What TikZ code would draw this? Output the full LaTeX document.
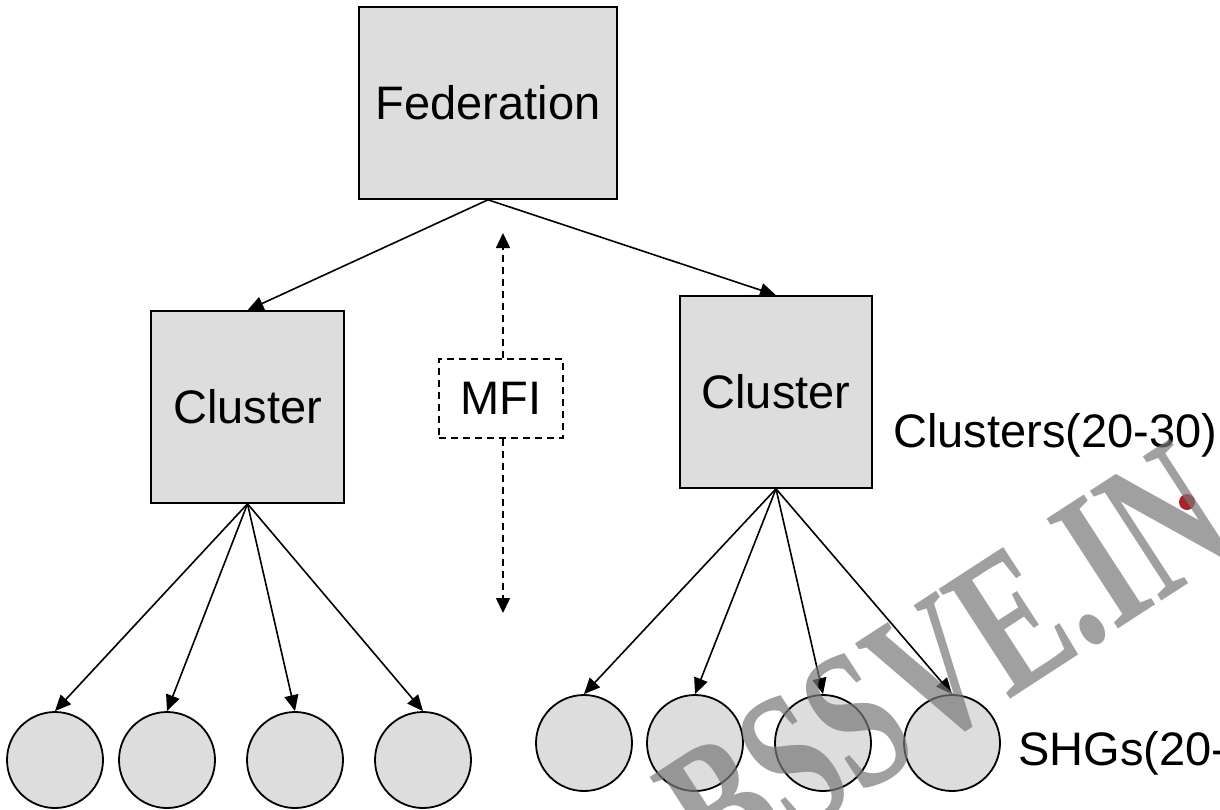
\documentclass[tikz,border=0pt]{standalone}
\usepackage{fontspec}
\setmainfont{Liberation Sans}
\newfontfamily\wmfont{Liberation Serif}
\usetikzlibrary{arrows.meta}
\definecolor{boxgray}{RGB}{221,221,221}
\definecolor{wmgray}{RGB}{120,120,120}
\definecolor{wmred}{RGB}{170,35,42}
\tikzset{
  every node/.style={font=\fontsize{47}{56}\selectfont, inner sep=0pt},
  sqbox/.style={draw, fill=boxgray, line width=1.6pt, minimum width=#1, minimum height=192pt},
  shg/.style={draw, fill=boxgray, circle, line width=1.8pt, minimum size=96pt},
  link/.style={line width=1.6pt, -{Triangle[length=16pt,width=14pt]}},
  dlink/.style={line width=1.5pt, dash pattern=on 7pt off 5pt, -{Triangle[length=15pt,width=14pt]}},
  mfibox/.style={draw, line width=1.5pt, dash pattern=on 7pt off 5pt, minimum width=124pt, minimum height=79pt}
}
\begin{document}
\begin{tikzpicture}[x=1pt, y=-1pt]
\useasboundingbox (0,0) rectangle (1220,809);
\begin{scope}
\clip (0,0) rectangle (1220,809);

% hierarchy boxes
\node[sqbox=258pt] (fed) at (488,103) {Federation};
\node[sqbox=193pt] (cl) at (247.5,407) {Cluster};
\node[sqbox=192pt] (cr) at (776,392) {Cluster};

% MFI with its dashed double arrow
\node[mfibox] (mfi) at (501,398.5) {MFI};
\coordinate (mup) at (503,233);
\coordinate (mdown) at (503,613);
\draw[dlink] (mfi.north -| mup) -- (mup);
\draw[dlink] (mfi.south -| mup) -- (mdown);

% SHG circles
\foreach \i/\x in {1/55,2/167,3/295,4/423}
  \node[shg] (l\i) at (\x,760) {};
\foreach \i/\x in {1/584,2/695,3/823,4/952}
  \node[shg] (r\i) at (\x,743) {};

% connectors
\draw[link] (fed.south) -- (cl.north);
\draw[link] (fed.south) -- (cr.north);
\foreach \i in {1,...,4} {
  \draw[link] (cl.south) -- (l\i.north);
  \draw[link] (cr.south) -- (r\i.north);
}

% level labels
\node[anchor=base west] (lclus) at (893,447) {Clusters(20-30)};
\node[anchor=base west] (lshg) at (1018,765) {SHGs(20-30)};

% watermark
\fill[wmred] (1187,502) circle (8pt);
\node[font=\wmfont\bfseries\fontsize{200}{200}\selectfont, text=wmgray, opacity=0.7, rotate=33] (wm) at (946,664) {\scalebox{0.69}[1]{BSSVE.IN}};
\end{scope}
\end{tikzpicture}
\end{document}
